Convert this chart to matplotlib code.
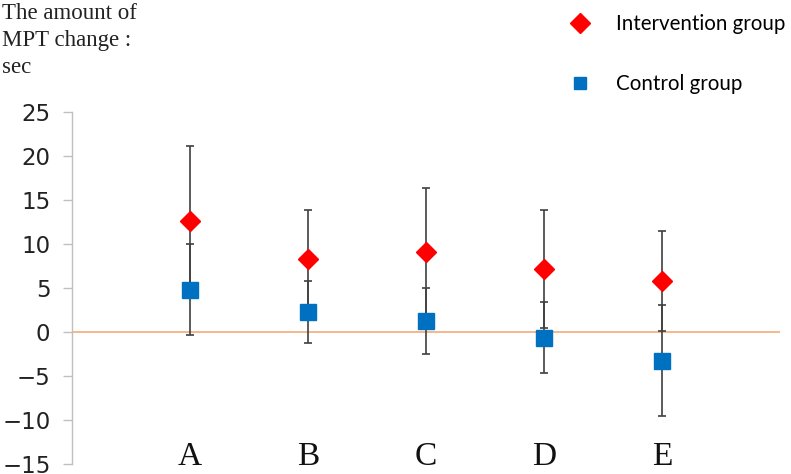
import matplotlib
matplotlib.use("Agg")
import matplotlib.pyplot as plt
from matplotlib.lines import Line2D

categories = ["A", "B", "C", "D", "E"]
intervention_mean = [12.6, 8.3, 9.1, 7.1, 5.8]
intervention_err = [8.5, 5.6, 7.3, 6.7, 5.7]
control_mean = [4.8, 2.3, 1.25, -0.65, -3.25]
control_err = [5.2, 3.5, 3.8, 4.05, 6.3]
yticks = [-15, -10, -5, 0, 5, 10, 15, 20, 25]

fig = plt.figure(figsize=(7.91, 4.74), dpi=100)
ax = fig.add_axes([0.091, 0.021, 0.895, 0.743])

x = list(range(1, len(categories) + 1))
ax.axhline(0, color="#F4B183", lw=1.3, zorder=1)

ax.errorbar(x, intervention_mean, yerr=intervention_err, fmt="none",
            ecolor="#404040", elinewidth=1.2, capsize=3, capthick=1.2, zorder=2)
ax.errorbar(x, control_mean, yerr=control_err, fmt="none",
            ecolor="#404040", elinewidth=1.2, capsize=3, capthick=1.2, zorder=2)
ax.plot(x, intervention_mean, linestyle="none", marker="D", ms=10.5,
        color="#FF0000", mec="#FF0000", zorder=4)
ax.plot(x, control_mean, linestyle="none", marker="s", ms=11.5,
        color="#0070C0", mec="#0070C0", zorder=3)

ax.set_xlim(0, 6)
ax.set_ylim(-15, 25)
ax.set_yticks(yticks)
ax.set_yticklabels([str(v).replace("-", "\u2212") for v in yticks],
                   fontsize=16.5, family="DejaVu Sans", color="#222222")
ax.set_xticks(x)
ax.set_xticklabels(categories, fontsize=24, family="Liberation Serif", color="#111111")
ax.tick_params(axis="x", length=0, pad=-16)
ax.tick_params(axis="y", length=6.5, width=1, color="#BFBFBF", pad=9)

for s in ["top", "right", "bottom"]:
    ax.spines[s].set_visible(False)
ax.spines["left"].set_color("#BFBFBF")
ax.spines["left"].set_linewidth(1)

fig.text(0.003, 0.993, "The amount of\nMPT change :\nsec", ha="left", va="top",
         fontsize=16.5, family="Liberation Serif", color="#222222", linespacing=1.38)

handles = [
    Line2D([], [], linestyle="none", marker="D", ms=10.5, color="#FF0000"),
    Line2D([], [], linestyle="none", marker="s", ms=9, color="#0070C0"),
]
fig.legend(handles, ["Intervention group", "Control group"],
           loc="upper left", bbox_to_anchor=(0.69, 1.01), frameon=False,
           prop={"family": "Lato", "size": 14.8}, labelspacing=1.95,
           handletextpad=1.0, handlelength=1.5)

fig.savefig("out.png", dpi=100)
